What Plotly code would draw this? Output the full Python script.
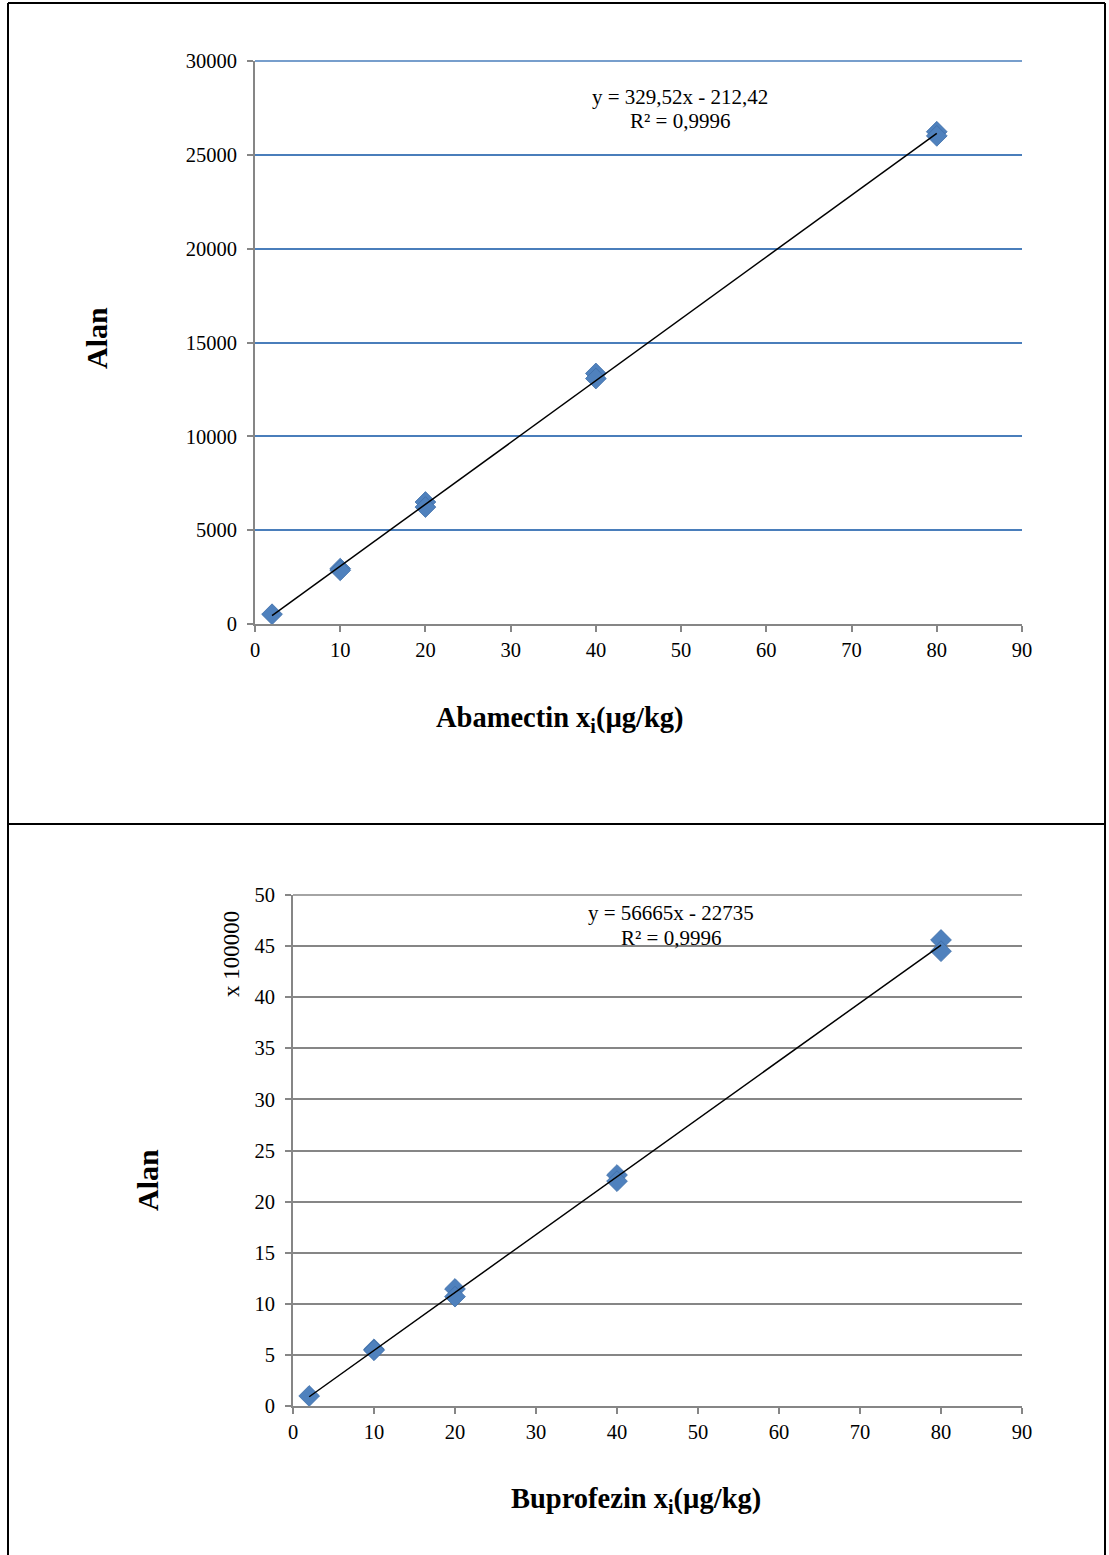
import plotly.graph_objects as go

# Calibration data: concentration (µg/kg) vs. peak area
aba_x = [2, 10, 10, 20, 20, 40, 40, 80, 80]
aba_y = [520, 2950, 2860, 6500, 6230, 13350, 13080, 26230, 26010]
aba_slope, aba_intercept = 329.52, -212.42

# Buprofezin areas shown in units of 100000
bup_x = [2, 10, 10, 20, 20, 40, 40, 80, 80]
bup_y = [0.98, 5.55, 5.45, 11.45, 10.7, 22.6, 22.0, 45.6, 44.5]
bup_slope, bup_intercept = 56665 / 1e5, -22735 / 1e5

x_ticks = [0, 10, 20, 30, 40, 50, 60, 70, 80, 90]
aba_y_ticks = [0, 5000, 10000, 15000, 20000, 25000, 30000]
bup_y_ticks = [0, 5, 10, 15, 20, 25, 30, 35, 40, 45, 50]

W, H = 1109, 1555
FONT = "Liberation Serif"
BLUE = "#4F81BD"
GRID_BLUE = "#4A7EBB"
GRAY = "#868686"


def px(x):
    return x / W


def py(y):
    return 1 - y / H


fig = go.Figure()

# Data points and fitted lines
for xs, ys, slope, icpt, xa, ya in [
    (aba_x, aba_y, aba_slope, aba_intercept, "x", "y"),
    (bup_x, bup_y, bup_slope, bup_intercept, "x2", "y2"),
]:
    fig.add_trace(go.Scatter(
        x=xs, y=ys, mode="markers", xaxis=xa, yaxis=ya,
        marker=dict(symbol="diamond", size=16, color=BLUE,
                    line=dict(color="#3F6FA8", width=0.8)),
        showlegend=False, hoverinfo="x+y",
    ))
    lx = [min(xs), max(xs)]
    fig.add_trace(go.Scatter(
        x=lx, y=[slope * v + icpt for v in lx], mode="lines",
        xaxis=xa, yaxis=ya, line=dict(color="black", width=1.5),
        showlegend=False, hoverinfo="skip",
    ))

axis_common = dict(
    showline=True, linecolor=GRAY, linewidth=2,
    ticks="outside", ticklen=6, tickcolor=GRAY, tickwidth=2,
    tickfont=dict(family=FONT, size=20.5, color="black"),
    zeroline=False, fixedrange=True, automargin=False,
)

X1_DOM = [px(255), px(1022)]
Y1_DOM = [py(624), py(61)]
X2_DOM = [px(293), px(1022)]
Y2_DOM = [py(1406), py(895)]

fig.update_layout(
    width=W, height=H,
    margin=dict(l=0, r=0, t=0, b=0, autoexpand=False),
    paper_bgcolor="white", plot_bgcolor="white",
    xaxis=dict(domain=X1_DOM, anchor="y", range=[0, 90],
               tickvals=x_ticks, ticktext=[str(v) for v in x_ticks],
               showgrid=False, **axis_common),
    yaxis=dict(domain=Y1_DOM, anchor="x", range=[0, 30000],
               tickvals=aba_y_ticks, ticktext=[str(v) for v in aba_y_ticks],
               showgrid=True, gridcolor=GRID_BLUE, gridwidth=1.5,
               ticklabelstandoff=6, **axis_common),
    xaxis2=dict(domain=X2_DOM, anchor="y2", range=[0, 90],
                tickvals=x_ticks, ticktext=[str(v) for v in x_ticks],
                showgrid=False, **axis_common),
    yaxis2=dict(domain=Y2_DOM, anchor="x2", range=[0, 50],
                tickvals=bup_y_ticks, ticktext=[str(v) for v in bup_y_ticks],
                showgrid=True, gridcolor=GRAY, gridwidth=1.5,
                ticklabelstandoff=6, **axis_common),
)

# Top gridline of each chart, drawn along the upper edge of the plot area
fig.add_shape(type="line", xref="paper", yref="paper",
              x0=X1_DOM[0], x1=X1_DOM[1], y0=Y1_DOM[1], y1=Y1_DOM[1],
              line=dict(color=GRID_BLUE, width=1.5))
fig.add_shape(type="line", xref="paper", yref="paper",
              x0=X2_DOM[0], x1=X2_DOM[1], y0=Y2_DOM[1], y1=Y2_DOM[1],
              line=dict(color=GRAY, width=1.5))

# Table-style frame around the two charts
frame = dict(type="line", xref="paper", yref="paper",
             line=dict(color="black", width=2))
fig.add_shape(x0=px(8), x1=px(8), y0=py(3), y1=0, **frame)
fig.add_shape(x0=px(1105), x1=px(1105), y0=py(3), y1=0, **frame)
fig.add_shape(x0=px(8), x1=px(1105), y0=py(3), y1=py(3), **frame)
fig.add_shape(x0=px(8), x1=px(1105), y0=py(824), y1=py(824), **frame)


def label(text, x, y, size, angle=0):
    fig.add_annotation(
        text=text, x=px(x), y=py(y), xref="paper", yref="paper",
        showarrow=False, textangle=angle, xanchor="center", yanchor="middle",
        font=dict(family=FONT, size=size, color="black"),
    )


# Titles and regression equations
label("<b>Alan</b>", 96, 338, 30, -90)
label("<b>Abamectin x<sub>i</sub>(µg/kg)</b>", 560, 719, 28.5)
label("y = 329,52x - 212,42", 680, 97, 21)
label("R² = 0,9996", 680, 121, 21)

label("<b>Alan</b>", 147, 1180, 30, -90)
label("x 100000", 231, 954, 23, -90)
label("<b>Buprofezin x<sub>i</sub>(µg/kg)</b>", 636, 1500, 28.5)
label("y = 56665x - 22735", 671, 913, 21)
label("R² = 0,9996", 671, 938, 21)

fig.write_html(
    "out.html",
    post_script="document.body.style.margin='0';",
)
